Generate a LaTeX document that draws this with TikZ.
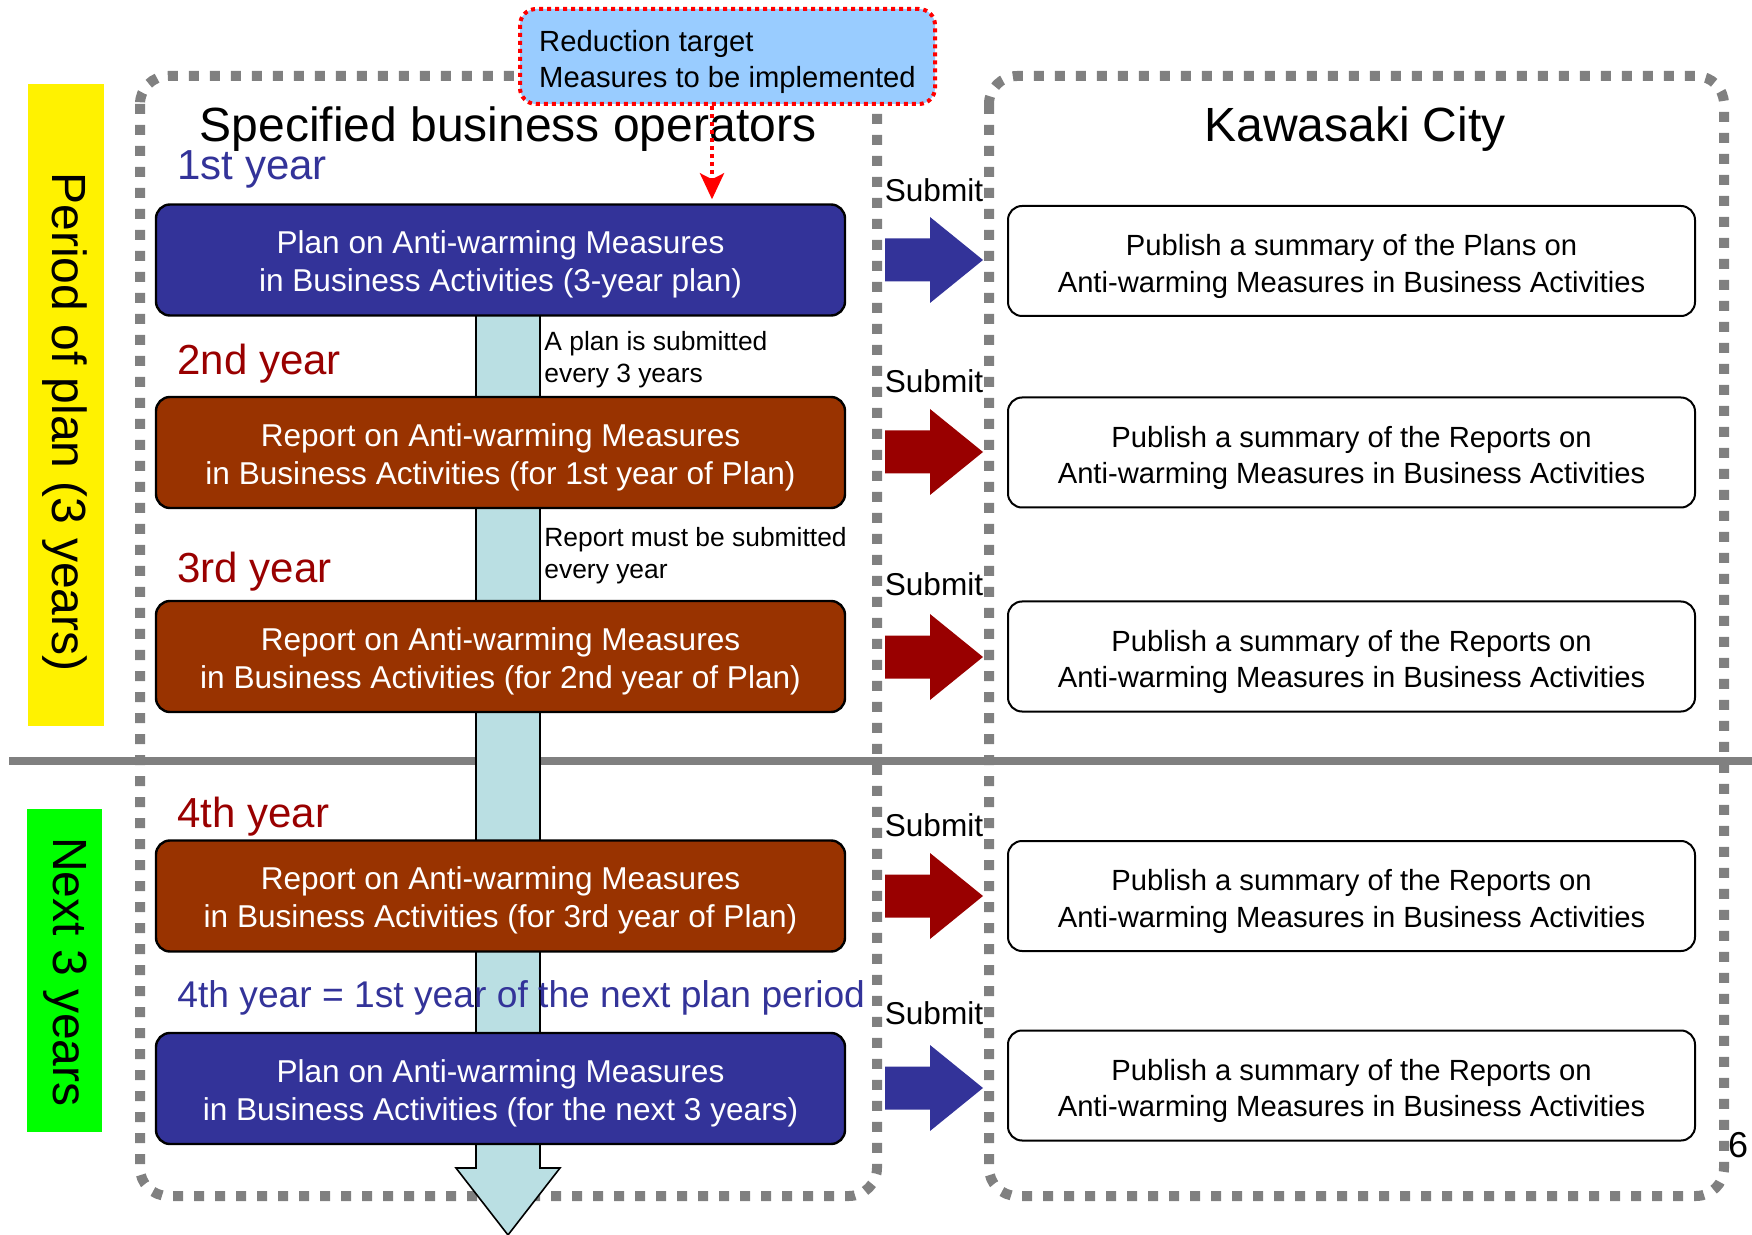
\documentclass[tikz,border=0pt]{standalone}
\usepackage{fontspec}
\setmainfont{Liberation Sans}
\usetikzlibrary{positioning, arrows.meta}
\definecolor{planblue}{HTML}{333399}
\definecolor{reportbrown}{HTML}{993300}
\definecolor{yearred}{HTML}{990000}
\definecolor{bandblue}{HTML}{BADFE3}
\definecolor{calloutblue}{HTML}{99CCFF}
\definecolor{framegray}{HTML}{808080}
\newcommand{\lift}{\rule{0pt}{16pt}}
\tikzset{x=0.5pt, y=-0.5pt,
  opbox/.style={draw=black, line width=1.2pt, rounded corners=7pt, minimum width=344.5pt, minimum height=55.5pt, inner sep=0pt, text=white, align=center, font=\fontsize{15.8pt}{19pt}\selectfont},
  planbox/.style={opbox, fill=planblue},
  reportbox/.style={opbox, fill=reportbrown},
  citybox/.style={draw=black, line width=1pt, rounded corners=7pt, fill=white, minimum width=343.5pt, minimum height=55pt, inner sep=0pt, align=center, font=\fontsize{14.6pt}{18.4pt}\selectfont},
  yearlabel/.style={anchor=west, inner sep=0pt, font=\fontsize{21pt}{25pt}\selectfont},
  note/.style={anchor=west, align=left, inner sep=0pt, font=\fontsize{13.2pt}{16pt}\selectfont},
  submitlabel/.style={inner sep=0pt, font=\fontsize{15.8pt}{19pt}\selectfont},
  heading/.style={inner sep=0pt, font=\fontsize{24pt}{28pt}\selectfont},
  period/.style={rotate=-90, inner sep=0pt, font=\fontsize{24pt}{28pt}\selectfont},
  frame/.style={draw=framegray, line width=5pt, dash pattern=on 5pt off 5.5pt, rounded corners=14pt},
  callout/.style={fill=calloutblue, draw=red, line width=2pt, dotted, rounded corners=8pt, minimum width=207.5pt, minimum height=47.5pt, align=left, font=\fontsize{14.6pt}{18.4pt}\selectfont},
}

\begin{document}
\begin{tikzpicture}
	\useasboundingbox (0,0) rectangle (1752,1235);
	% period markers
	\fill[yellow] (28,84) rectangle (104,726);
	\fill[green] (27,809) rectangle (102,1132);
	\node[period] (period) at (65,422) {Period of plan (3 years)};
	\node[period] (next) at (65,972) {Next 3 years};

	% frames and divider
	\draw[frame] (140,76) rectangle (877,1196);
	\draw[frame] (989,76) rectangle (1724,1196);
	\draw[framegray, line width=4pt] (9,761) -- (1752,761);

	% flow band
	\filldraw[fill=bandblue, draw=black, line width=0.8pt]
		(476,300) -- (476,1168) -- (456,1168) -- (508,1235) -- (560,1168) -- (540,1168) -- (540,300) -- cycle;

	\node[heading] (operators) at (508,129) {Specified business operators};
	\node[heading] (city) at (1355,129) {Kawasaki City};

	% operators side
	\node[yearlabel, text=planblue] (year1) at (177,169) {1st year};
	\node[planbox] (plan1) at (500.5,260) {\lift Plan on Anti-warming Measures\\in Business Activities (3-year plan)};
	\node[yearlabel, text=yearred] (year2) at (177,364) {2nd year};
	\node[reportbox] (report1) at (500.5,452.5) {\lift Report on Anti-warming Measures\\in Business Activities (for 1st year of Plan)};
	\node[yearlabel, text=yearred] (year3) at (177,572) {3rd year};
	\node[reportbox] (report2) at (500.5,656.5) {\lift Report on Anti-warming Measures\\in Business Activities (for 2nd year of Plan)};
	\node[yearlabel, text=yearred] (year4) at (177,817) {4th year};
	\node[reportbox] (report3) at (500.5,896) {\lift Report on Anti-warming Measures\\in Business Activities (for 3rd year of Plan)};
	\node[yearlabel, text=planblue, font=\fontsize{18.6pt}{22pt}\selectfont] (nextyear) at (177,998) {4th year = 1st year of the next plan period};
	\node[planbox] (plan2) at (500.5,1088.5) {\lift Plan on Anti-warming Measures\\in Business Activities (for the next 3 years)};

	\node[note] (every3) at (544,360) {A plan is submitted\\every 3 years};
	\node[note] (every1) at (544,556) {Report must be submitted\\every year};

	% city side
	\node[citybox] (pub1) at (1351.5,261) {\lift Publish a summary of the Plans on\\Anti-warming Measures in Business Activities};
	\node[citybox] (pub2) at (1351.5,452.5) {\lift Publish a summary of the Reports on\\Anti-warming Measures in Business Activities};
	\node[citybox] (pub3) at (1351.5,656.5) {\lift Publish a summary of the Reports on\\Anti-warming Measures in Business Activities};
	\node[citybox] (pub4) at (1351.5,896) {\lift Publish a summary of the Reports on\\Anti-warming Measures in Business Activities};
	\node[citybox] (pub5) at (1351.5,1085.5) {\lift Publish a summary of the Reports on\\Anti-warming Measures in Business Activities};

	% submit arrows
	\foreach \y/\c/\s in {260/planblue/190, 452/yearred/381, 657/yearred/584, 896/yearred/825, 1088/planblue/1013} {
		\fill[\c] (885,\y-21.5) -- (930,\y-21.5) -- (930,\y-43) -- (983,\y) -- (930,\y+43) -- (930,\y+21.5) -- (885,\y+21.5) -- cycle;
		\node[submitlabel] (submit\y) at (934,\s) {Submit};
	}

	% target callout
	\node[callout] (target) at (727.5,56.5) {\lift Reduction target\\Measures to be implemented};
	\coordinate (aim) at (712,0);
	\draw[red, line width=2pt, dotted, -{Stealth[length=13pt, width=12pt, inset=3pt]}, shorten >=2pt]
		(target.south -| aim) -- (plan1.north -| aim);

	\node[inner sep=0pt, font=\fontsize{18pt}{20pt}\selectfont] (page) at (1738,1145) {6};
\end{tikzpicture}
\end{document}
